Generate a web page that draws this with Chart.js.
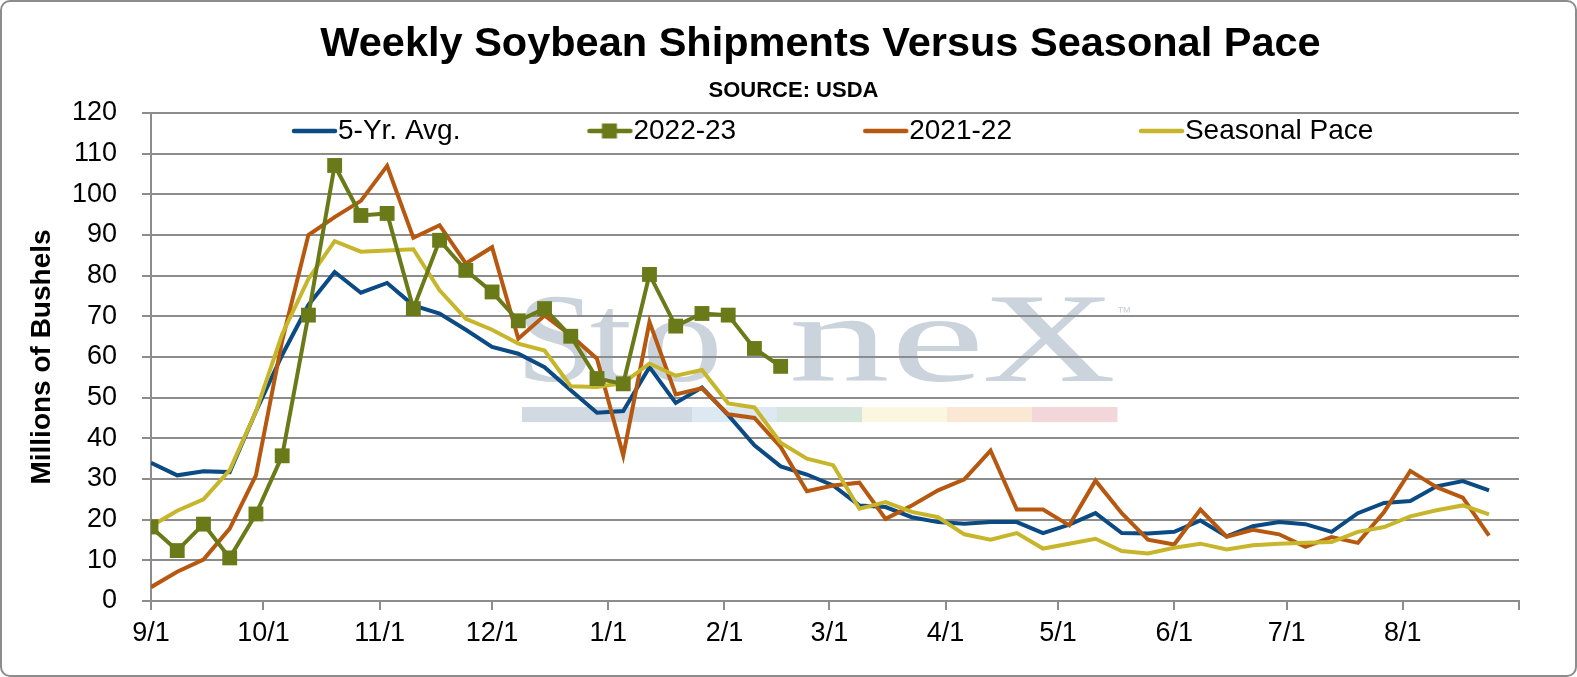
<!DOCTYPE html>
<html>
<head>
<meta charset="utf-8">
<script src="https://cdn.jsdelivr.net/npm/chart.js@4.4.0/dist/chart.umd.min.js"></script>
<style>
  html, body { margin: 0; padding: 0; background: #fff; }
  #wrap { position: absolute; left: 0; top: 0; width: 1577px; height: 677px; box-sizing: border-box;
          border: 2px solid #8c8c8c; border-radius: 10px; overflow: hidden; background: #fff; }
  canvas { display: block; }
</style>
</head>
<body>
<div id="wrap"><canvas id="soyChart" width="1573" height="673"></canvas></div>
<script>
/*  data
-------------------------------------------------------*/
// days since 9/1 where each month label sits
var monthDays = [0, 30, 61, 91, 122, 153, 181, 212, 242, 273, 303, 334, 365];
var monthLabels = ['9/1', '10/1', '11/1', '12/1', '1/1', '2/1', '3/1', '4/1', '5/1', '6/1', '7/1', '8/1', ''];

// weekly values, millions of bushels, first week = 9/1
var avg5yr = [34.0, 30.9, 31.9, 31.7, 46.6, 60.5, 72.8, 80.9, 75.8, 78.2,
              72.7, 70.7, 66.7, 62.5, 60.8, 57.5, 51.8, 46.3, 46.7, 57.5,
              48.7, 52.5, 45.7, 38.3, 33.1, 31.1, 28.4, 23.5, 23.1, 20.6,
              19.4, 19.0, 19.4, 19.4, 16.7, 18.8, 21.6, 16.7, 16.6, 17.0,
              19.8, 15.9, 18.4, 19.4, 18.9, 17.0, 21.6, 24.1, 24.6, 28.2,
              29.5, 27.2];
var ship2223 = [18.2, 12.4, 18.9, 10.6, 21.4, 35.7, 70.3, 107.1, 94.8, 95.3,
                71.9, 88.7, 81.3, 76.0, 68.9, 71.9, 65.1, 54.7, 53.4, 80.3,
                67.6, 70.7, 70.3, 62.1, 57.7];
var ship2122 = [3.4, 7.2, 10.2, 17.8, 30.9, 64.0, 90.0, 94.4, 98.4, 107.0,
                89.3, 92.4, 83.0, 87.0, 64.5, 70.2, 65.3, 59.6, 35.8, 68.6,
                50.8, 52.3, 45.9, 45.0, 37.9, 27.0, 28.4, 29.1, 20.2, 23.5,
                27.2, 29.9, 37.0, 22.5, 22.5, 18.6, 29.6, 21.6, 15.1, 13.9,
                22.5, 15.8, 17.5, 16.4, 13.3, 15.7, 14.3, 21.9, 32.0, 28.0,
                25.4, 16.1];
var seasonalPace = [18.4, 22.2, 25.0, 32.2, 46.6, 65.6, 79.2, 88.5, 85.9, 86.2,
                    86.5, 76.4, 69.4, 66.7, 63.3, 61.6, 52.8, 52.6, 53.6, 58.4,
                    55.4, 56.8, 48.6, 47.6, 38.9, 35.0, 33.4, 22.7, 24.3, 21.9,
                    20.6, 16.4, 15.1, 16.7, 12.9, 14.1, 15.3, 12.3, 11.7, 13.1,
                    14.1, 12.7, 13.7, 14.1, 14.3, 14.5, 17.0, 18.2, 20.8, 22.3,
                    23.5, 21.3];

var seriesNames = ['5-Yr. Avg.', '2022-23', '2021-22', 'Seasonal Pace'];
var seriesColors = ['#0b4a82', '#6a7a19', '#b6580f', '#c7b62b'];
var titleText = 'Weekly Soybean Shipments Versus Seasonal Pace';
var subtitleText = 'SOURCE: USDA';

var FONT = '"Liberation Sans", Arial, sans-serif';

function weekly(values) {
  return values.map(function (v, i) { return { x: i * 7, y: v }; });
}

// legend sample: line (plus square for 2022-23) at the right end of a wide transparent strip,
// so the strip also works as spacing between the legend entries
function legendSample(color, withSquare) {
  var c = document.createElement('canvas');
  c.width = 183; c.height = 20;
  var g = c.getContext('2d');
  g.strokeStyle = color; g.lineWidth = 4.5; g.lineCap = 'round';
  g.beginPath(); g.moveTo(139, 10); g.lineTo(180, 10); g.stroke();
  if (withSquare) { g.fillStyle = color; g.fillRect(151.5, 2.5, 15, 15); }
  return c;
}
var legendImgs = seriesColors.map(function (c, i) { return legendSample(c, i === 1); });

/*  watermark + placement tweaks
-------------------------------------------------------*/
// letter boxes as fractions of the plot area width
var wmLetters = [['S', 0.2734, 0.3194], ['t', 0.3216, 0.3516], ['o', 0.3626, 0.4145],
                 ['n', 0.4686, 0.5387], ['e', 0.5453, 0.6045], ['X', 0.6096, 0.7032]];
var wmBands = ['#d1d9e3', '#d1d9e3', '#dce8f2', '#d5e5dc', '#faf6df', '#fbe8d4', '#f3d6da'];

var watermark = {
  id: 'watermark',
  beforeDraw: function (chart) {
    var a = chart.chartArea, ctx = chart.ctx;
    var w = a.right - a.left, h = a.bottom - a.top;
    var base = a.top + h * 0.549;
    ctx.save();
    ctx.textAlign = 'left';
    ctx.textBaseline = 'alphabetic';
    ctx.fillStyle = '#cbd3dd';
    ctx.font = '126px "Liberation Serif", serif';
    wmLetters.forEach(function (L) {
      var m = ctx.measureText(L[0]);
      var gw = m.actualBoundingBoxLeft + m.actualBoundingBoxRight;
      var x0 = a.left + w * L[1], x1 = a.left + w * L[2];
      var sx = (x1 - x0) / gw;
      ctx.save();
      ctx.translate(x0, base);
      ctx.scale(sx, 1);
      ctx.fillText(L[0], m.actualBoundingBoxLeft, 0);
      ctx.restore();
    });
    ctx.font = '15px ' + FONT;
    ctx.fillText('\u2122', a.left + w * 0.706, base - 64);
    var bx0 = a.left + w * 0.2712, bx1 = a.left + w * 0.7061, bw = (bx1 - bx0) / wmBands.length;
    var by = a.top + h * 0.6025, bh = h * 0.031;
    wmBands.forEach(function (col, k) {
      ctx.fillStyle = col;
      ctx.fillRect(bx0 + k * bw, by, bw + 0.5, bh);
    });
    ctx.restore();
  }
};

var placement = {
  id: 'placement',
  afterInit: function (chart) {
    // legend sits over the top band of the plot, so it takes no layout height
    var lg = chart.legend, fit = lg.fit;
    lg.fit = function () { fit.call(this); this.height = 0; };
  },
  afterLayout: function (chart) {
    chart.boxes.forEach(function (b) {
      if (!b.options) return;
      if (b.options.text === titleText) { b.left += 56; b.right += 56; }
      if (b.options.text === subtitleText) { b.left += 29; b.right += 29; }
    });
    var lg = chart.legend;
    lg.left += 14;
    lg.height = 40;
    lg.bottom = lg.top + 40;
  }
};

/*  chart
-------------------------------------------------------*/
var ctx = document.getElementById('soyChart');
var soyChart = new Chart(ctx, {
  type: 'line',
  data: {
    datasets: [{
        label: seriesNames[0],
        data: weekly(avg5yr),
        borderColor: seriesColors[0],
        backgroundColor: seriesColors[0],
        borderWidth: 4,
        pointRadius: 0,
        order: 4
      }, {
        label: seriesNames[1],
        data: weekly(ship2223),
        borderColor: seriesColors[1],
        backgroundColor: seriesColors[1],
        borderWidth: 4,
        pointStyle: 'rect',
        pointRadius: 10.5,
        pointBorderWidth: 0,
        order: 1
      }, {
        label: seriesNames[2],
        data: weekly(ship2122),
        borderColor: seriesColors[2],
        backgroundColor: seriesColors[2],
        borderWidth: 4,
        pointRadius: 0,
        order: 3
      }, {
        label: seriesNames[3],
        data: weekly(seasonalPace),
        borderColor: seriesColors[3],
        backgroundColor: seriesColors[3],
        borderWidth: 4,
        pointRadius: 0,
        order: 2
      }
    ]
  },
  plugins: [watermark, placement],
  options: {
    responsive: false,
    animation: false,
    devicePixelRatio: 1,
    lineTension: 0,
    layout: { padding: { left: 8, right: 56, top: 0, bottom: 0 } },
    plugins: {
      tooltip: { enabled: false },
      title: {
        display: true,
        text: titleText,
        color: '#000',
        font: { family: FONT, size: 41.5, weight: 'bold' },
        padding: { top: 18, bottom: 0 }
      },
      subtitle: {
        display: true,
        text: subtitleText,
        color: '#000',
        font: { family: FONT, size: 22, weight: 'bold' },
        padding: { top: 7.5, bottom: 9.3 }
      },
      legend: {
        position: 'top',
        align: 'start',
        fullSize: false,
        labels: {
          usePointStyle: true,
          pointStyleWidth: 155,
          padding: 4,
          color: '#000',
          font: { family: FONT, size: 28 },
          sort: function (a, b) { return a.datasetIndex - b.datasetIndex; },
          generateLabels: function (chart) {
            var items = Chart.defaults.plugins.legend.labels.generateLabels(chart);
            items.forEach(function (it) { it.pointStyle = legendImgs[it.datasetIndex]; });
            return items;
          }
        }
      }
    },
    scales: {
      x: {
        type: 'linear',
        min: 0,
        max: 365,
        afterBuildTicks: function (scale) {
          scale.ticks = monthDays.map(function (d) { return { value: d }; });
        },
        afterFit: function (scale) { scale.height = 74; },
        ticks: {
          autoSkip: false,
          maxRotation: 0,
          padding: 7,
          color: '#000',
          font: { family: FONT, size: 27 },
          callback: function (v) {
            var k = monthDays.indexOf(v);
            return k < 0 ? '' : monthLabels[k];
          }
        },
        grid: { drawOnChartArea: false, tickLength: 9, color: '#8c8c8c', lineWidth: 2 },
        border: { color: '#8c8c8c', width: 2 }
      },
      y: {
        min: 0,
        max: 120,
        afterFit: function (scale) { scale.width = 141; },
        ticks: {
          stepSize: 10,
          padding: 25,
          color: '#000',
          font: { family: FONT, size: 27 }
        },
        grid: { color: '#8c8c8c', lineWidth: 2, tickLength: 9 },
        border: { color: '#8c8c8c', width: 2 },
        title: {
          display: true,
          text: 'Millions of Bushels',
          color: '#000',
          font: { family: FONT, size: 28, weight: 'bold' },
          padding: { top: 15, bottom: 0 }
        }
      }
    }
  }
});
</script>
</body>
</html>
